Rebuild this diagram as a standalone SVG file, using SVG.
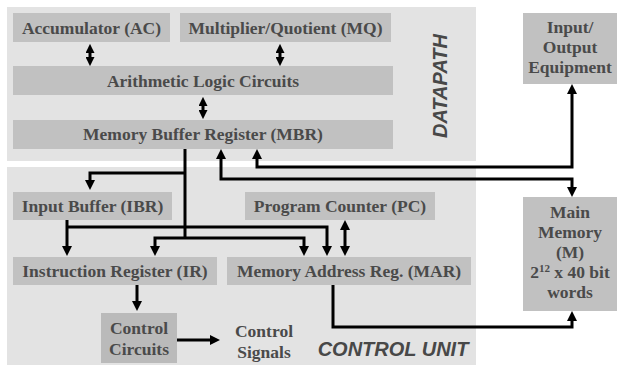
<svg xmlns="http://www.w3.org/2000/svg" width="618" height="367" viewBox="0 0 618 367">
  <style>
    .panel { fill: #e3e3e3; }
    .box { fill: #c1c1c1; }
    .box-dark { fill: #bababa; }
    .lbl { font-family: "Liberation Serif", "Times New Roman", serif; font-weight: bold; font-size: 17.5px; fill: #4a4a4a; text-anchor: middle; }
    .sec { font-family: "Liberation Sans", Arial, sans-serif; font-weight: bold; font-style: italic; font-size: 20px; fill: #484848; text-anchor: middle; }
    .wire { fill: none; stroke: #000; stroke-width: 3; }
    .both { marker-start: url(#head); marker-end: url(#head); }
    .end { marker-end: url(#head); }
    .both-s { marker-start: url(#head-s); marker-end: url(#head-s); }
  </style>
  <defs>
    <marker id="head" viewBox="0 0 10 10" refX="1" refY="5" markerWidth="10" markerHeight="10" markerUnits="userSpaceOnUse" orient="auto-start-reverse">
      <path d="M0,0 L10,5 L0,10 z" fill="#000"/>
    </marker>
    <marker id="head-s" viewBox="0 0 10 10" refX="1" refY="5" markerWidth="9" markerHeight="9" markerUnits="userSpaceOnUse" orient="auto-start-reverse">
      <path d="M0,0 L10,5 L0,10 z" fill="#000"/>
    </marker>
  </defs>

  <rect width="618" height="367" fill="#fff"/>

  <!-- section panels -->
  <g id="datapath">
    <rect class="panel" x="7" y="7" width="469" height="154"/>
    <text class="sec" transform="translate(447,86) rotate(-90)">DATAPATH</text>
  </g>
  <g id="control-unit">
    <rect class="panel" x="7" y="167" width="469" height="198"/>
    <text class="sec" x="393" y="356">CONTROL UNIT</text>
  </g>

  <!-- datapath registers -->
  <g id="ac">
    <rect class="box" x="13" y="13" width="157" height="29"/>
    <text class="lbl" x="91.5" y="34">Accumulator (AC)</text>
  </g>
  <g id="mq">
    <rect class="box" x="180" y="13" width="211" height="29"/>
    <text class="lbl" x="285.5" y="34">Multiplier/Quotient (MQ)</text>
  </g>
  <g id="alu">
    <rect class="box" x="13" y="66" width="380" height="29"/>
    <text class="lbl" x="203" y="87">Arithmetic Logic Circuits</text>
  </g>
  <g id="mbr">
    <rect class="box" x="13" y="120" width="380" height="29"/>
    <text class="lbl" x="203" y="140">Memory Buffer Register (MBR)</text>
  </g>

  <!-- control unit registers -->
  <g id="ibr">
    <rect class="box" x="13" y="192" width="159" height="28"/>
    <text class="lbl" x="92.5" y="212">Input Buffer (IBR)</text>
  </g>
  <g id="pc">
    <rect class="box" x="245" y="192" width="190" height="28"/>
    <text class="lbl" x="340" y="212">Program Counter (PC)</text>
  </g>
  <g id="ir">
    <rect class="box" x="13" y="257" width="204" height="28"/>
    <text class="lbl" x="115" y="277">Instruction Register (IR)</text>
  </g>
  <g id="mar">
    <rect class="box" x="227" y="257" width="244" height="28"/>
    <text class="lbl" x="349" y="277">Memory Address Reg. (MAR)</text>
  </g>
  <g id="control-circuits">
    <rect class="box-dark" x="101" y="313" width="76" height="50"/>
    <text class="lbl" x="139" y="334">Control</text>
    <text class="lbl" x="139" y="355">Circuits</text>
  </g>
  <g id="control-signals">
    <text class="lbl" x="264" y="337">Control</text>
    <text class="lbl" x="264" y="358">Signals</text>
  </g>

  <!-- external units -->
  <g id="io">
    <rect class="box" x="523" y="13" width="94" height="71"/>
    <text class="lbl" x="570" y="33">Input/</text>
    <text class="lbl" x="570" y="53">Output</text>
    <text class="lbl" x="570" y="73">Equipment</text>
  </g>
  <g id="memory">
    <rect class="box" x="523" y="197" width="94" height="114"/>
    <text class="lbl" x="570" y="218">Main</text>
    <text class="lbl" x="570" y="238">Memory</text>
    <text class="lbl" x="570" y="258">(M)</text>
    <text class="lbl" x="570" y="278">2<tspan font-size="11" dy="-6">12</tspan><tspan dy="6"> x 40 bit</tspan></text>
    <text class="lbl" x="570" y="298">words</text>
  </g>

  <!-- data and address paths -->
  <g id="connectors">
    <path class="wire both-s" d="M90,52 V58"/>
    <path class="wire both-s" d="M280,52 V58"/>
    <path class="wire both-s" d="M203,105 V111"/>
    <path class="wire both" d="M257,158 V167 H572 V93"/>
    <path class="wire both" d="M221,158 V179 H572 V188"/>
    <path class="wire" d="M185,149 V238"/>
    <path class="wire end" d="M185,173 H90 V181"/>
    <path class="wire end" d="M185,238 H155 V247"/>
    <path class="wire end" d="M185,238 H304 V247"/>
    <path class="wire end" d="M67,220 V247"/>
    <path class="wire end" d="M67,227 H327 V247"/>
    <path class="wire both" d="M345,229 V247"/>
    <path class="wire end" d="M333,285 V327 H572 V320"/>
    <path class="wire end" d="M137,285 V302"/>
    <path class="wire end" d="M177,340 H211"/>
  </g>
</svg>
